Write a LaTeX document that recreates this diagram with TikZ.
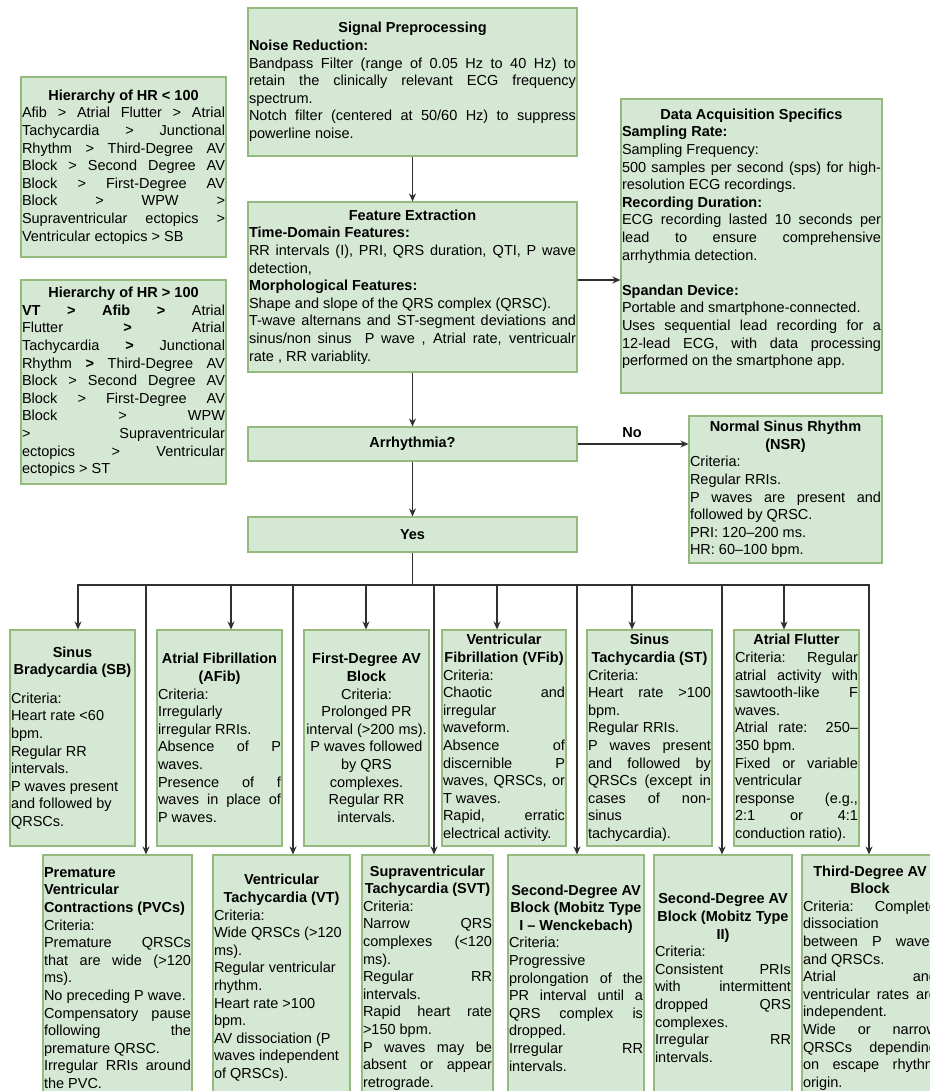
\documentclass[tikz,border=0pt]{standalone}
\usepackage{fontspec}
\setmainfont{Liberation Sans}
\usetikzlibrary{arrows.meta}
\definecolor{boxfill}{HTML}{D5E8D4}
\definecolor{boxline}{HTML}{94BA7E}
\definecolor{linec}{HTML}{303030}
\newcommand\fs{\fontsize{14.5pt}{17.6pt}\selectfont\parindent=0pt\parskip=0pt\tolerance=10000\hyphenpenalty=10000\exhyphenpenalty=10000\relax}
\newcommand\jb{\linebreak}
\newcommand\boxtitle[1]{{\centering\bfseries #1\par}}
\tikzset{
  box/.style={draw=boxline, fill=boxfill, line width=1.1pt, inner xsep=1pt, inner ysep=0pt, align=justify, font=\fs},
  conn/.style={draw=linec, line width=1.2pt},
  arr/.style={conn, -{Stealth[length=8pt,width=7pt]}},
  lbl/.style={font=\fs\bfseries, inner sep=0pt}
}
\begin{document}
\begin{tikzpicture}[x=1pt,y=-1pt]
\useasboundingbox (0,0) rectangle (929,1091);
\fill[white] (0,0) rectangle (929,1091);

% ---------- main column ----------
\node[box, minimum width=329pt, minimum height=148pt, text width=327pt] (sigpre) at (412.5,82) {\boxtitle{Signal Preprocessing}
{\bfseries Noise Reduction:}\par
Bandpass Filter (range of 0.05 Hz to 40 Hz) to\jb retain the clinically relevant ECG frequency\jb spectrum.\par
Notch filter (centered at 50/60 Hz) to suppress\jb powerline noise.};

\node[box, minimum width=329pt, minimum height=170pt, text width=327pt] (featext) at (412.5,287) {\boxtitle{Feature Extraction}
{\bfseries Time-Domain Features:}\par
RR intervals (I), PRI, QRS duration, QTI, P wave\jb detection,\par
{\bfseries Morphological Features:}\par
Shape and slope of the QRS complex (QRSC).\par
T-wave alternans and ST-segment deviations and\jb sinus/non sinus\ \ P wave , Atrial rate, ventricualr\jb rate , RR variablity.};

\node[box, minimum width=329pt, minimum height=34pt, text width=327pt] (arr) at (412.5,444) {\boxtitle{Arrhythmia?}};
\node[box, minimum width=329pt, minimum height=35pt, text width=327pt] (yes) at (412.5,534.5) {\boxtitle{Yes}};

% ---------- left hierarchy boxes ----------
\node[box, minimum width=205pt, minimum height=180pt, text width=203pt] (hrlt) at (123.5,167) {\boxtitle{Hierarchy of HR < 100}
Afib > Atrial Flutter > Atrial\jb Tachycardia > Junctional\jb Rhythm > Third-Degree AV\jb Block > Second Degree AV\jb Block > First-Degree AV\jb Block > WPW >\jb Supraventricular ectopics >\jb Ventricular ectopics > SB};

\node[box, minimum width=205pt, minimum height=204pt, text width=203pt] (hrgt) at (123.5,382) {\boxtitle{Hierarchy of HR > 100}
\textbf{VT > Afib >} Atrial\jb Flutter \textbf{>} Atrial\jb Tachycardia \textbf{>} Junctional\jb Rhythm \textbf{>} Third-Degree AV\jb Block > Second Degree AV\jb Block > First-Degree AV\jb Block > WPW\jb > Supraventricular\jb ectopics > Ventricular\jb ectopics > ST};

% ---------- right boxes ----------
\node[box, minimum width=261pt, minimum height=294pt, text width=259pt] (daq) at (751.5,246) {\boxtitle{Data Acquisition Specifics}
{\bfseries Sampling Rate:}\par
Sampling Frequency:\par
500 samples per second (sps) for high-\jb resolution ECG recordings.\par
{\bfseries Recording Duration:}\par
ECG recording lasted 10 seconds per\jb lead to ensure comprehensive\jb arrhythmia detection.\par
\mbox{}\par
{\bfseries Spandan Device:}\par
Portable and smartphone-connected.\par
Uses sequential lead recording for a\jb 12-lead ECG, with data processing\jb performed on the smartphone app.\par
\mbox{}};

\node[box, minimum width=193pt, minimum height=147pt, text width=191pt] (nsr) at (785.5,489.5) {\boxtitle{Normal Sinus Rhythm\par (NSR)}
Criteria:\par
Regular RRIs.\par
P waves are present and\jb followed by QRSC.\par
PRI: 120–200 ms.\par
HR: 60–100 bpm.};

% ---------- row 1 ----------
\node[box, minimum width=125pt, minimum height=216pt, text width=123pt] (sb) at (72.5,738) {\boxtitle{Sinus\par Bradycardia (SB)}\vspace{11pt}
{\raggedright Criteria:\par Heart rate <60\par bpm.\par Regular RR\par intervals.\par P waves present\par and followed by\par QRSCs.\par}};

\node[box, minimum width=125pt, minimum height=216pt, text width=123pt] (afib) at (219.5,738) {\boxtitle{Atrial Fibrillation\par (AFib)}
Criteria:\par
Irregularly\jb irregular RRIs.\par
Absence of P\jb waves.\par
Presence of f\jb waves in place of\jb P waves.};

\node[box, minimum width=125pt, minimum height=216pt, text width=123pt] (fdeg) at (366.5,738) {{\centering\bfseries First-Degree AV\par Block\par\mdseries Criteria:\par Prolonged PR\par interval (>200 ms).\par P waves followed\par by QRS\par complexes.\par Regular RR\par intervals.\par}};

\node[box, minimum width=124pt, minimum height=216pt, text width=122pt] (vfib) at (504,738) {\boxtitle{Ventricular\par Fibrillation (VFib)}
Criteria:\par
Chaotic and\jb irregular\jb waveform.\par
Absence of\jb discernible P\jb waves, QRSCs, or\jb T waves.\par
Rapid, erratic\jb electrical activity.};

\node[box, minimum width=125pt, minimum height=216pt, text width=123pt] (st) at (649.5,738) {\boxtitle{Sinus\par Tachycardia (ST)}
Criteria:\par
Heart rate >100\jb bpm.\par
Regular RRIs.\par
P waves present\jb and followed by\jb QRSCs (except in\jb cases of non-\jb sinus\jb tachycardia).};

\node[box, minimum width=125pt, minimum height=216pt, text width=123pt] (aflut) at (796.5,738) {\boxtitle{Atrial Flutter}
Criteria: Regular\jb atrial activity with\jb sawtooth-like F\jb waves.\par
Atrial rate: 250–\jb 350 bpm.\par
Fixed or variable\jb ventricular\jb response (e.g.,\jb 2:1 or 4:1\jb conduction ratio).};

% ---------- row 2 ----------
\node[box, minimum width=149pt, minimum height=246pt, text width=147pt] (pvc) at (117.5,978) {{\raggedright\bfseries Premature\par Ventricular\par Contractions (PVCs)\par}
Criteria:\par
Premature QRSCs\jb that are wide (>120\jb ms).\par
No preceding P wave.\par
Compensatory pause\jb following the\jb premature QRSC.\par
Irregular RRIs around\jb the PVC.};

\node[box, minimum width=137pt, minimum height=246pt, text width=135pt] (vt) at (281.5,978) {\boxtitle{Ventricular\par Tachycardia (VT)}
{\raggedright Criteria:\par Wide QRSCs (>120\par ms).\par Regular ventricular\par rhythm.\par Heart rate >100\par bpm.\par AV dissociation (P\par waves independent\par of QRSCs).\par}};

\node[box, minimum width=131pt, minimum height=246pt, text width=129pt] (svt) at (427.5,978) {\boxtitle{Supraventricular\par Tachycardia (SVT)}
Criteria:\par
Narrow QRS\jb complexes (<120\jb ms).\par
Regular RR\jb intervals.\par
Rapid heart rate\jb >150 bpm.\par
P waves may be\jb absent or appear\jb retrograde.};

\node[box, minimum width=136pt, minimum height=246pt, text width=134pt] (mob1) at (576,978) {\boxtitle{Second-Degree AV\par Block (Mobitz Type\par I – Wenckebach)}
Criteria:\par
Progressive\jb prolongation of the\jb PR interval until a\jb QRS complex is\jb dropped.\par
Irregular RR\jb intervals.};

\node[box, minimum width=138pt, minimum height=246pt, text width=136pt] (mob2) at (723,978) {\boxtitle{Second-Degree AV\par Block (Mobitz Type\par II)}
Criteria:\par
Consistent PRIs\jb with intermittent\jb dropped QRS\jb complexes.\par
Irregular RR\jb intervals.};

\node[box, minimum width=136pt, minimum height=246pt, text width=134pt] (third) at (870,978) {\boxtitle{Third-Degree AV\par Block}
Criteria: Complete\jb dissociation\jb between P waves\jb and QRSCs.\par
Atrial and\jb ventricular rates are\jb independent.\par
Wide or narrow\jb QRSCs depending\jb on escape rhythm\jb origin.};

% ---------- connectors ----------
\draw[arr] (sigpre) -- (featext);
\draw[arr] (featext) -- (arr);
\draw[arr] (arr) -- (yes);
\draw[arr] ([yshift=7pt]featext.east) -- ([yshift=7pt]featext.east -| daq.west);
\draw[arr] (arr.east) -- (arr.east -| nsr.west);
\node[lbl] (nolbl) at (632,433) {No};

\coordinate (bus) at (412.5,585);
\coordinate (d1) at (78,585);
\coordinate (d2) at (146,585);
\coordinate (d3) at (231,585);
\coordinate (d4) at (293,585);
\coordinate (d5) at (366,585);
\coordinate (d6) at (434,585);
\coordinate (d7) at (497,585);
\coordinate (d8) at (577,585);
\coordinate (d9) at (632,585);
\coordinate (d10) at (722,585);
\coordinate (d11) at (784,585);
\coordinate (d12) at (869,585);
\draw[conn] (yes.south) -- (bus);
\draw[conn, line cap=rect] (d1) -- (d12);

\draw[arr] (d1) -- (d1 |- sb.north);
\draw[arr] (d3) -- (d3 |- afib.north);
\draw[arr] (d5) -- (d5 |- fdeg.north);
\draw[arr] (d7) -- (d7 |- vfib.north);
\draw[arr] (d9) -- (d9 |- st.north);
\draw[arr] (d11) -- (d11 |- aflut.north);

\draw[arr] (d2) -- (d2 |- pvc.north);
\draw[arr] (d4) -- (d4 |- vt.north);
\draw[arr] (d6) -- (d6 |- svt.north);
\draw[arr] (d8) -- (d8 |- mob1.north);
\draw[arr] (d10) -- (d10 |- mob2.north);
\draw[arr] (d12) -- (d12 |- third.north);
\end{tikzpicture}
\end{document}
